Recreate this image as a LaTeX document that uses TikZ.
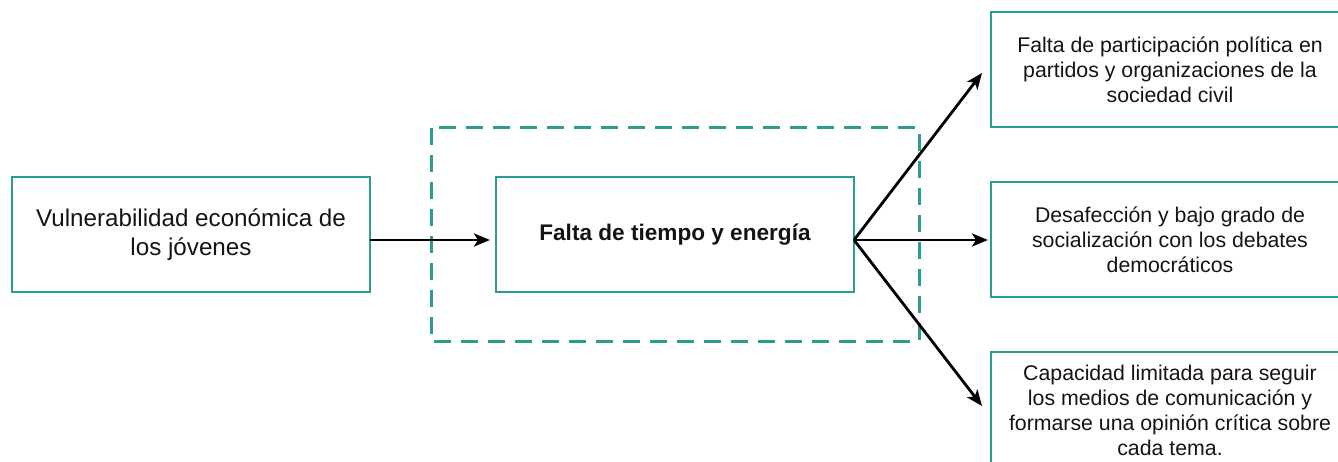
\documentclass[tikz,border=0pt]{standalone}
\usepackage{fontspec}
\setmainfont{Liberation Sans}
\usetikzlibrary{arrows.meta}
\definecolor{teal}{RGB}{42,157,143}
\definecolor{ink}{RGB}{20,20,20}
\tikzset{
  box/.style={draw=teal, line width=2pt, minimum width=358pt, minimum height=115pt, align=center, inner sep=0pt, text=ink},
  smalltxt/.style={font=\fontsize{21.3}{25}\selectfont},
  bigtxt/.style={font=\fontsize{24.2}{29}\selectfont},
  arr/.style={line width=2.8pt, -{Stealth[length=16pt,width=13pt,inset=4pt]}},
  dashbox/.style={draw=teal, line width=3pt, dash pattern=on 17pt off 10pt}
}
\begin{document}
\begin{tikzpicture}[x=1pt,y=-1pt]
\useasboundingbox (0,0) rectangle (1338,462);
\clip (0,0) rectangle (1338,462);
\draw[dashbox] (431,128) rectangle (919,341);
\node[box, bigtxt] (A) at (191,234.5) {Vulnerabilidad económica de\\los jóvenes};
\node[box, font=\fontsize{22.6}{27}\selectfont\bfseries] (B) at (675,234.5) {Falta de tiempo y energía};
\node[box, smalltxt] (C1) at (1170,70) {Falta de participación política en\\partidos y organizaciones de la\\sociedad civil};
\node[box, smalltxt] (C2) at (1170,239.5) {Desafección y bajo grado de\\socialización con los debates\\democráticos};
\node[box, smalltxt, minimum height=116pt] (C3) at (1170,410) {Capacidad limitada para seguir\\los medios de comunicación y\\formarse una opinión crítica sobre\\cada tema.};
\coordinate (aout) at (370,240);
\coordinate (bin) at (490,240);
\coordinate (bout) at (854,240);
\coordinate (t1) at (982,73);
\coordinate (t2) at (988,240);
\coordinate (t3) at (982,406);
\draw[arr] (aout) -- (bin);
\draw[arr] (bout) -- (t1);
\draw[arr] (bout) -- (t2);
\draw[arr] (bout) -- (t3);
\end{tikzpicture}
\end{document}
